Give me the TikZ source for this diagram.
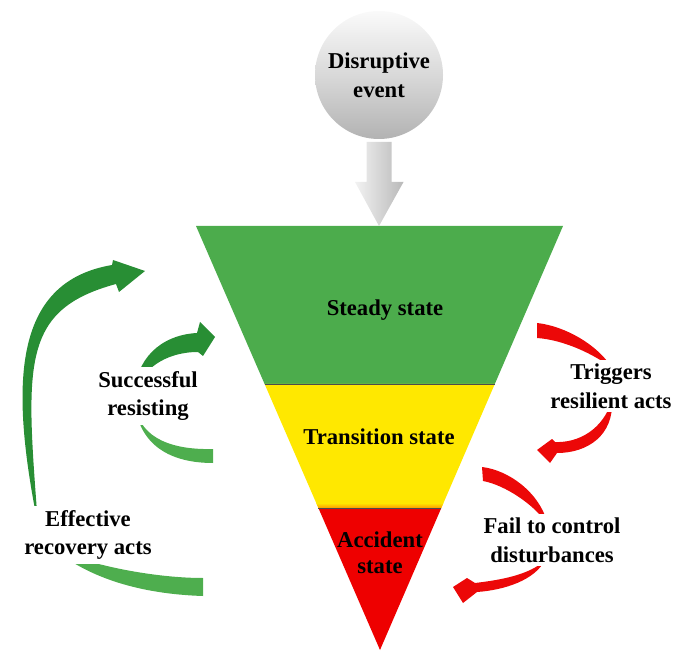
\documentclass[tikz,border=0pt]{standalone}
\usepackage{fontspec}
\setmainfont{Liberation Serif}
\usetikzlibrary{calc}
\definecolor{stategreen}{RGB}{76,172,76}
\definecolor{stateyellow}{RGB}{255,232,0}
\definecolor{statered}{RGB}{238,0,0}
\definecolor{arrowgreen}{RGB}{40,142,52}
\definecolor{palegreen}{RGB}{78,174,78}
\definecolor{arrowred}{RGB}{236,8,8}

\begin{document}
\begin{tikzpicture}[x=0.75pt, y=-0.75pt,
    statetext/.style={font=\bfseries\fontsize{17}{21.5}\selectfont, align=center, inner sep=2pt},
    labelbox/.style={statetext, fill=white, inner sep=3pt}]
  \useasboundingbox (0,0) rectangle (688,655);

  % Funnel of states
  \coordinate (tl) at (196,226); \coordinate (tr) at (563,226);
  \coordinate (gl) at (264.6,384); \coordinate (gr) at (494.8,384);
  \coordinate (yl) at (318.4,508); \coordinate (yr) at (441.3,508);
  \coordinate (apex) at (380,650);
  \fill[stategreen] (tl) -- (tr) -- (gr) -- (gl) -- cycle;
  \fill[stateyellow] (gl) -- (gr) -- (yr) -- (yl) -- cycle;
  \shade[top color=stateyellow, bottom color=orange!80!yellow]
    ($(gl)!0.96!(yl)$) -- ($(gr)!0.96!(yr)$) -- (yr) -- (yl) -- cycle;
  \fill[statered] (yl) -- (yr) -- (apex) -- cycle;
  \draw[black!70, line width=0.6pt] (gl) -- (gr) (yl) -- (yr);

  \node[statetext] (steady) at (385,310) {Steady state};
  \node[statetext] (transition) at (379,437) {Transition state};
  \node[statetext, font=\bfseries\fontsize{17}{19.5}\selectfont] (accident) at (380,553) {Accident\\state};

  % Disruptive event
  \node[statetext, circle, minimum size=96pt, top color=gray!4, bottom color=gray!60, middle color=gray!30] (event) at (379,75) {Disruptive\\event};
  \coordinate (arrowtip) at (379,226);
  \shade[left color=gray!10, right color=gray!55]
    ($(arrowtip)+(-12.5,-84)$) -- ++(25,0) -- ++(0,40) -- ++(12,0) -- (arrowtip)
    -- ++(-24,-44) -- ++(11.5,0) -- cycle;

  % Effective recovery acts
  \fill[arrowgreen] (38,525) .. controls (26,365) and (20,310) .. (116,284)
    -- (119,292) -- (145,271) -- (113,260) -- (112,265)
    .. controls (12,282) and (10,385) .. (38,525) -- cycle;
  \fill[palegreen] (55,550) .. controls (100,568) and (160,578) .. (203,578)
    -- (203,596) .. controls (140,594) and (90,578) .. (55,550) -- cycle;

  % Successful resisting
  \fill[arrowgreen] (135,395) .. controls (140,370) and (165,352) .. (198,352)
    -- (203,356) -- (215,337) -- (200,322) -- (197,333)
    .. controls (160,335) and (135,360) .. (135,395) -- cycle;
  \fill[palegreen] (135,405) .. controls (140,440) and (175,450) .. (213,449)
    -- (213,463) .. controls (170,463) and (140,445) .. (135,405) -- cycle;

  % Triggers resilient acts
  \fill[arrowred] (537,323) .. controls (565,326) and (598,345) .. (612,368)
    .. controls (595,355) and (565,340) .. (537,338) -- cycle;
  \fill[arrowred] (612,400) .. controls (614,435) and (588,453) .. (557,453)
    -- (550,463) -- (537,450) -- (552,439) -- (555,442)
    .. controls (578,443) and (603,430) .. (612,400) -- cycle;

  % Fail to control disturbances
  \fill[arrowred] (482,467) .. controls (508,470) and (540,492) .. (548,525)
    .. controls (535,505) and (505,485) .. (483,481) -- cycle;
  \fill[arrowred] (545,560) .. controls (535,580) and (505,590) .. (477,592)
    -- (463,603) -- (453,587) -- (467,578) -- (475,583)
    .. controls (500,580) and (530,575) .. (545,560) -- cycle;

  % Labels over the arrows
  \node[labelbox] (resist) at (148,396) {Successful\\resisting};
  \node[labelbox] (recovery) at (88,535) {Effective\\recovery acts};
  \node[labelbox] (triggers) at (611,386) {Triggers\\resilient acts};
  \node[labelbox] (fail) at (552,540) {Fail to control\\disturbances};
\end{tikzpicture}
\end{document}
